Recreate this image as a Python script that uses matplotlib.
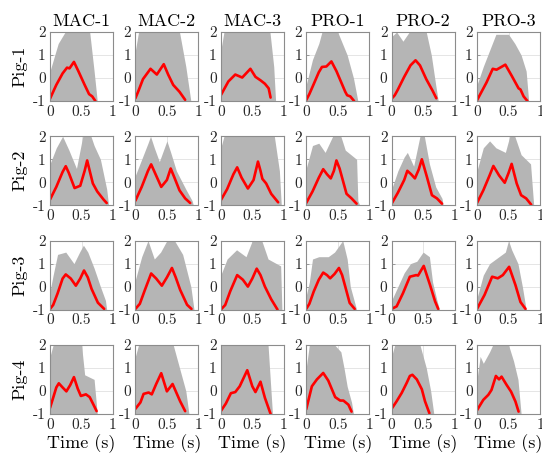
import matplotlib

matplotlib.use("Agg")
import matplotlib.pyplot as plt  # noqa: E402

ROW_LABELS = ["Pig-1", "Pig-2", "Pig-3", "Pig-4"]
COL_LABELS = ["MAC-1", "MAC-2", "MAC-3", "PRO-1", "PRO-2", "PRO-3"]

# mean curve (red), row-major: Pig-1 MAC-1 ... Pig-4 PRO-3
RED_T = [
    [0, 0.1, 0.2, 0.27, 0.31, 0.38, 0.45, 0.55, 0.62, 0.67, 0.72],
    [0, 0.05, 0.12, 0.24, 0.34, 0.45, 0.52, 0.6, 0.7, 0.79],
    [0, 0.05, 0.12, 0.23, 0.34, 0.47, 0.55, 0.63, 0.7, 0.76, 0.79],
    [0, 0.05, 0.12, 0.2, 0.25, 0.32, 0.4, 0.48, 0.55, 0.62, 0.65, 0.7, 0.76],
    [0, 0.05, 0.1, 0.2, 0.3, 0.38, 0.45, 0.55, 0.65, 0.71],
    [0, 0.15, 0.25, 0.31, 0.45, 0.55, 0.66, 0.69, 0.74, 0.8],
    [0, 0.1, 0.2, 0.25, 0.3, 0.39, 0.48, 0.55, 0.59, 0.63, 0.68, 0.75, 0.85, 0.9],
    [0, 0.1, 0.2, 0.25, 0.32, 0.41, 0.5, 0.56, 0.62, 0.7, 0.79, 0.87],
    [0, 0.1, 0.2, 0.26, 0.33, 0.43, 0.52, 0.59, 0.63, 0.66, 0.72, 0.8, 0.91],
    [0, 0.1, 0.2, 0.27, 0.33, 0.39, 0.44, 0.48, 0.53, 0.6, 0.64, 0.72, 0.8],
    [0, 0.1, 0.2, 0.25, 0.31, 0.37, 0.43, 0.48, 0.56, 0.64, 0.72, 0.8],
    [0, 0.1, 0.2, 0.26, 0.35, 0.44, 0.5, 0.55, 0.63, 0.7, 0.78, 0.86],
    [0, 0.05, 0.12, 0.2, 0.25, 0.33, 0.41, 0.48, 0.54, 0.6, 0.66, 0.76, 0.86],
    [0, 0.07, 0.15, 0.25, 0.33, 0.42, 0.5, 0.58, 0.64, 0.71, 0.82, 0.89],
    [0, 0.07, 0.15, 0.26, 0.35, 0.43, 0.5, 0.57, 0.63, 0.7, 0.8, 0.9],
    [0, 0.05, 0.12, 0.2, 0.27, 0.33, 0.38, 0.45, 0.52, 0.57, 0.62, 0.69, 0.77],
    [0, 0.08, 0.18, 0.29, 0.39, 0.42, 0.51, 0.61, 0.69, 0.74],
    [0, 0.12, 0.24, 0.33, 0.41, 0.51, 0.61, 0.69, 0.77],
    [0, 0.05, 0.1, 0.14, 0.2, 0.26, 0.32, 0.38, 0.44, 0.49, 0.57, 0.63, 0.69, 0.74],
    [0, 0.08, 0.13, 0.21, 0.26, 0.33, 0.41, 0.5, 0.59, 0.71, 0.79],
    [0, 0.08, 0.16, 0.23, 0.3, 0.42, 0.5, 0.55, 0.63, 0.7, 0.79],
    [0, 0.09, 0.17, 0.27, 0.35, 0.46, 0.54, 0.59, 0.67, 0.72],
    [0, 0.08, 0.16, 0.24, 0.29, 0.33, 0.4, 0.48, 0.53, 0.6],
    [0, 0.1, 0.18, 0.23, 0.3, 0.35, 0.39, 0.47, 0.54, 0.61, 0.66],
]
RED_Y = [
    [-0.9, -0.3, 0.2, 0.45, 0.42, 0.7, 0.3, -0.3, -0.7, -0.8, -1.0],
    [-0.88, -0.55, -0.05, 0.4, 0.15, 0.6, 0.15, -0.3, -0.6, -0.95],
    [-0.75, -0.5, -0.15, 0.15, 0.02, 0.4, 0.05, -0.1, -0.25, -0.45, -0.85],
    [-0.96, -0.7, -0.26, 0.25, 0.48, 0.5, 0.72, 0.3, -0.15, -0.6, -0.75, -0.8, -1.0],
    [-0.9, -0.75, -0.5, 0.05, 0.55, 0.77, 0.55, -0.05, -0.55, -0.88],
    [-0.97, -0.2, 0.4, 0.36, 0.58, 0.1, -0.45, -0.5, -0.8, -1.0],
    [-0.75, -0.2, 0.45, 0.7, 0.4, -0.25, -0.15, 0.5, 0.95, 0.5, -0.05, -0.4, -0.75, -0.9],
    [-0.8, -0.2, 0.5, 0.78, 0.35, -0.2, 0.1, 0.6, 0.2, -0.35, -0.7, -0.9],
    [-0.78, -0.3, 0.35, 0.65, 0.2, -0.27, 0.1, 0.9, 0.5, 0.15, -0.05, -0.5, -0.87],
    [-0.9, -0.4, 0.2, 0.57, 0.35, 0.17, 0.5, 0.95, 0.6, -0.1, -0.5, -0.7, -0.93],
    [-0.93, -0.45, 0.1, 0.5, 0.35, 0.17, 0.55, 1.0, 0.24, -0.56, -0.7, -0.93],
    [-0.9, -0.35, 0.3, 0.71, 0.3, -0.02, 0.4, 0.8, -0.05, -0.56, -0.7, -0.97],
    [-0.97, -0.8, -0.3, 0.35, 0.53, 0.35, 0.04, 0.35, 0.7, 0.4, -0.1, -0.7, -0.97],
    [-0.97, -0.75, -0.15, 0.57, 0.35, 0.04, 0.4, 0.81, 0.4, -0.14, -0.79, -0.97],
    [-1.0, -0.8, -0.2, 0.5, 0.3, 0.0, 0.35, 0.78, 0.5, 0.0, -0.55, -1.0],
    [-0.97, -0.75, -0.21, 0.3, 0.61, 0.5, 0.36, 0.55, 0.81, 0.5, 0.0, -0.71, -0.97],
    [-0.97, -0.86, -0.29, 0.43, 0.5, 0.48, 0.9, 0.07, -0.64, -0.97],
    [-0.97, -0.36, 0.43, 0.36, 0.5, 0.86, 0.07, -0.67, -0.97],
    [-0.74, -0.3, 0.15, 0.33, 0.15, -0.02, 0.25, 0.6, 0.1, -0.22, -0.15, -0.27, -0.6, -0.88],
    [-0.78, -0.5, -0.13, -0.07, -0.15, 0.3, 0.77, -0.02, 0.3, -0.45, -0.88],
    [-0.88, -0.55, -0.1, -0.05, 0.2, 0.9, 0.2, -0.05, 0.4, -0.3, -1.0],
    [-0.8, 0.2, 0.5, 0.78, 0.45, -0.27, -0.42, -0.42, -0.6, -0.9],
    [-0.78, -0.45, -0.09, 0.35, 0.65, 0.7, 0.5, 0.07, -0.45, -0.97],
    [-0.84, -0.39, -0.17, 0.04, 0.65, 0.5, 0.62, 0.26, -0.03, -0.46, -0.9],
]

# upper edge of the grey bundle of individual cycles (lower edge sits at -1)
BAND_T = [
    [0, 0.13, 0.24, 0.63, 0.7, 0.75],
    [0, 0.05, 0.7, 0.8, 0.88],
    [0, 0.05, 0.78, 0.84, 0.87],
    [0, 0.1, 0.2, 0.25, 0.5, 0.65, 0.75, 0.82],
    [0, 0.08, 0.18, 0.28, 0.55, 0.63, 0.7, 0.74],
    [0, 0.1, 0.2, 0.3, 0.5, 0.6, 0.7, 0.78, 0.82],
    [0, 0.1, 0.2, 0.3, 0.42, 0.52, 0.65, 0.7, 0.8, 0.9, 0.93],
    [0, 0.1, 0.2, 0.24, 0.3, 0.38, 0.5, 0.56, 0.65, 0.8, 0.9, 0.92],
    [0, 0.05, 0.85, 0.93, 0.96],
    [0, 0.1, 0.2, 0.3, 0.42, 0.55, 0.62, 0.8, 0.82, 0.85],
    [0, 0.1, 0.2, 0.25, 0.35, 0.45, 0.52, 0.6, 0.7, 0.8, 0.82],
    [0, 0.1, 0.2, 0.3, 0.45, 0.52, 0.6, 0.7, 0.85, 0.9],
    [0, 0.05, 0.12, 0.25, 0.38, 0.47, 0.53, 0.6, 0.7, 0.8, 0.88, 0.9],
    [0, 0.1, 0.2, 0.3, 0.4, 0.5, 0.62, 0.75, 0.88, 0.93],
    [0, 0.1, 0.25, 0.4, 0.5, 0.65, 0.75, 0.95, 0.97],
    [0, 0.05, 0.1, 0.2, 0.35, 0.45, 0.58, 0.65, 0.7, 0.78, 0.8],
    [0, 0.1, 0.2, 0.3, 0.4, 0.5, 0.6, 0.65, 0.72, 0.76],
    [0, 0.1, 0.2, 0.3, 0.45, 0.5, 0.55, 0.65, 0.72, 0.78],
    [0, 0.05, 0.5, 0.55, 0.7, 0.75],
    [0, 0.05, 0.6, 0.7, 0.8, 0.85],
    [0, 0.75, 0.82],
    [0, 0.05, 0.45, 0.55, 0.6, 0.65, 0.72, 0.75],
    [0, 0.05, 0.45, 0.55, 0.62, 0.67],
    [0, 0.05, 0.1, 0.2, 0.25, 0.5, 0.58, 0.65, 0.7],
]
BAND_HI = [
    [0.3, 1.5, 2, 2, 0.3, -1],
    [1.2, 2, 2, 0.5, -1],
    [1.2, 2, 2, 0.5, -1],
    [-0.3, 0.8, 1.5, 2, 2, 1.0, 0.0, -1],
    [1.8, 2, 1.6, 2, 2, 1.0, -0.3, -1],
    [-0.3, 0.5, 1.2, 1.9, 1.9, 1.5, 1.0, 0.3, -1],
    [0.8, 1.5, 2, 1.4, 0.6, 2, 2, 1.6, 1.0, -0.3, -1],
    [0.3, 1.0, 1.7, 2.0, 1.5, 0.9, 1.8, 1.3, 0.5, -0.3, -0.8, -1],
    [1.5, 2, 2, 0.5, -1],
    [0.6, 1.6, 1.7, 1.3, 2, 2, 1.4, 1.0, -0.8, -1],
    [-0.3, 0.5, 1.1, 1.3, 0.7, 2, 2, 0.8, -0.2, -0.7, -1],
    [0.5, 1.5, 1.8, 1.5, 1.3, 2, 2, 1.2, 0.8, -1],
    [-0.2, 0.5, 1.4, 1.5, 1.0, 1.5, 1.8, 1.5, 0.8, 0.0, -0.6, -1],
    [0.3, 1.3, 2, 1.2, 1.5, 2, 2, 1.4, 0.0, -1],
    [0.5, 1.2, 1.6, 1.3, 2, 2, 1.2, 0.9, -1],
    [-0.4, 0.2, 1.2, 1.3, 1.3, 1.5, 2.0, 1.2, 0.0, -0.8, -1],
    [-0.6, 0.0, 0.6, 1.0, 1.1, 1.5, 1.3, 0.2, -0.6, -1],
    [-0.5, 0.5, 1.0, 1.2, 1.5, 2, 1.6, 1.0, 0.0, -1],
    [1.5, 2, 2, 0.7, 0.5, -1],
    [1.5, 2, 2, 1.0, 0.0, -1],
    [2, 2, -1],
    [1.0, 2, 2, 1.7, 1.0, 0.2, -0.5, -1],
    [1.5, 2, 2, 1.0, 0.0, -1],
    [0.5, 1.5, 1.2, 1.7, 2, 2, 1.3, 0.5, -1],
]

X_TICKS = [0, 0.5, 1]
X_TICK_LABELS = ["0", "0.5", "1"]
Y_TICKS = [-1, 0, 1, 2]
Y_TICK_LABELS = ["-1", "0", "1", "2"]

GREY = "#b5b5b5"
RED = "#ff0000"
FIG_W, FIG_H = 542, 461

plt.rcParams["font.family"] = ["cmr10", "DejaVu Serif"]
plt.rcParams["axes.unicode_minus"] = False
plt.rcParams["mathtext.fontset"] = "cm"


def draw_panel(ax, idx):
    ax.set_axisbelow(True)
    ax.grid(True, color="#e0e0e0", linewidth=0.6)
    ax.fill_between(BAND_T[idx], -1, BAND_HI[idx], color=GREY, linewidth=0, zorder=1)
    ax.plot(RED_T[idx], RED_Y[idx], color=RED, linewidth=1.9,
            solid_capstyle="round", solid_joinstyle="round", zorder=3)
    ax.set_xlim(0, 1)
    ax.set_ylim(-1, 2)
    ax.set_xticks(X_TICKS)
    ax.set_xticklabels(X_TICK_LABELS)
    ax.set_yticks(Y_TICKS)
    ax.set_yticklabels(Y_TICK_LABELS)
    for spine in ax.spines.values():
        spine.set_color("#8c8c8c")
        spine.set_linewidth(0.8)
        spine.set_zorder(4)
    ax.tick_params(direction="in", length=2, width=0.6, color="#8c8c8c",
                   labelsize=11, labelcolor="#262626", pad=3)


def main():
    fig = plt.figure(figsize=(FIG_W / 100, FIG_H / 100), dpi=100)
    left0, col_step, width = 50, 85.4, 63
    top0, row_step, height = 32, 104.3, 69
    for r, row_name in enumerate(ROW_LABELS):
        for c, col_name in enumerate(COL_LABELS):
            left = left0 + c * col_step
            top = top0 + r * row_step
            ax = fig.add_axes([left / FIG_W, 1 - (top + height) / FIG_H,
                               width / FIG_W, height / FIG_H])
            draw_panel(ax, r * len(COL_LABELS) + c)
            if r == 0:
                ax.set_title(col_name, fontsize=13, pad=4)
            if c == 0:
                ax.set_ylabel(row_name, fontsize=13, labelpad=4)
            if r == len(ROW_LABELS) - 1:
                ax.set_xlabel("Time (s)", fontsize=13, labelpad=2)
    fig.savefig("out.png", dpi=100)
    plt.close(fig)


if __name__ == "__main__":
    main()
